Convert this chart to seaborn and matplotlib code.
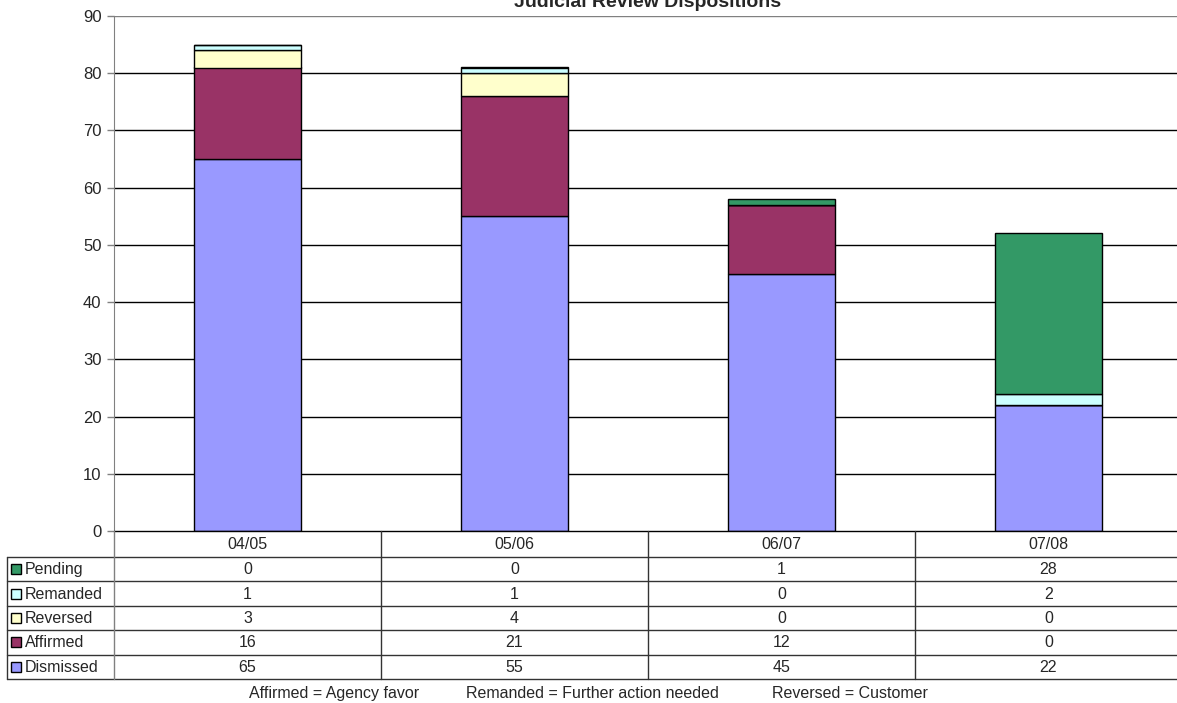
import matplotlib
matplotlib.use("Agg")
import matplotlib.pyplot as plt
from matplotlib.patches import Rectangle
import numpy as np
import seaborn as sns

periods = ["04/05", "05/06", "06/07", "07/08"]
# stacked bottom to top
series = ["Dismissed", "Affirmed", "Reversed", "Remanded", "Pending"]
dismissed = [65, 55, 45, 22]
affirmed = [16, 21, 12, 0]
reversed_ = [3, 4, 0, 0]
remanded = [1, 1, 0, 2]
pending = [0, 0, 1, 28]
colors = ["#9999FF", "#993366", "#FFFFCC", "#CCFFFF", "#339966"]
footnotes = ["Affirmed = Agency favor", "Remanded = Further action needed", "Reversed = Customer"]

values = [dismissed, affirmed, reversed_, remanded, pending]

sns.set_style("white")
plt.rcParams["font.family"] = ["Liberation Sans", "DejaVu Sans"]

W, H = 1177, 703
fig = plt.figure(figsize=(W / 100, H / 100), dpi=100)
left, right, top, bottom = 114, 1182, 16, 531
ax = fig.add_axes([left / W, 1 - bottom / H, (right - left) / W, (bottom - top) / H])

base = np.zeros(len(periods))
for name, vals, col in zip(series, values, colors):
    sns.barplot(x=periods, y=vals, bottom=base.copy(), color=col, saturation=1, width=0.4,
                edgecolor="black", linewidth=1, ax=ax, zorder=3)
    base += np.array(vals)

ax.set_xlim(-0.5, len(periods) - 0.5)
ax.set_ylim(0, 90)
ax.set_yticks(range(0, 91, 10))
ax.set_xticks([])
ax.set_xlabel("")
ax.set_ylabel("")
ax.tick_params(axis="y", labelsize=12, length=5, width=1, color="#808080", direction="out", left=True, pad=4)
for t in range(10, 91, 10):
    ax.axhline(t, color="black" if t < 90 else "#808080", linewidth=1, zorder=1)
for s in ["top", "right", "bottom"]:
    ax.spines[s].set_visible(False)
ax.spines["left"].set_color("#808080")
ax.axhline(0, color="black", linewidth=1, zorder=4, clip_on=False)

# data table under the plot
fx = lambda px: px / W
fy = lambda py: 1 - py / H
line_kw = dict(color="#333333", linewidth=1, transform=fig.transFigure)
col_w = (right - left) / len(periods)
row_top = 557
row_h = 24.4
n_rows = len(series)
table_bottom = row_top + n_rows * row_h
leg_left = 7
fs = 11.5

for i in range(n_rows + 1):
    y = row_top + i * row_h
    fig.add_artist(plt.Line2D([fx(leg_left), fx(right)], [fy(y), fy(y)], **line_kw))
fig.add_artist(plt.Line2D([fx(leg_left), fx(leg_left)], [fy(row_top), fy(table_bottom)], **line_kw))
fig.add_artist(plt.Line2D([fx(left), fx(left)], [fy(bottom), fy(table_bottom)], color="#808080",
                          linewidth=1, transform=fig.transFigure))
for j in range(1, len(periods)):
    x = left + j * col_w
    fig.add_artist(plt.Line2D([fx(x), fx(x)], [fy(bottom), fy(table_bottom)], **line_kw))

for j, p in enumerate(periods):
    fig.text(fx(left + (j + 0.5) * col_w), fy(bottom + 18), p, ha="center", va="baseline", fontsize=fs)

# rows (top row = last series)
for i, (name, vals, col) in enumerate(zip(series[::-1], values[::-1], colors[::-1])):
    yc = row_top + (i + 0.5) * row_h
    fig.add_artist(Rectangle((fx(11), fy(yc + 5)), 10 / W, 10 / H, facecolor=col,
                             edgecolor="black", linewidth=1, transform=fig.transFigure))
    fig.text(fx(25), fy(yc + 5), name, ha="left", va="baseline", fontsize=fs)
    for j, v in enumerate(vals):
        fig.text(fx(left + (j + 0.5) * col_w), fy(yc + 5), str(v), ha="center", va="baseline", fontsize=fs)

# footnotes
for txt, x in zip(footnotes, [249, 466, 772]):
    fig.text(fx(x), fy(698), txt, ha="left", va="baseline", fontsize=11.5)

fig.text(fx(648), fy(7), "Judicial Review Dispositions", ha="center", va="baseline",
         fontsize=14, fontweight="bold")

fig.savefig("out.png", dpi=100)
